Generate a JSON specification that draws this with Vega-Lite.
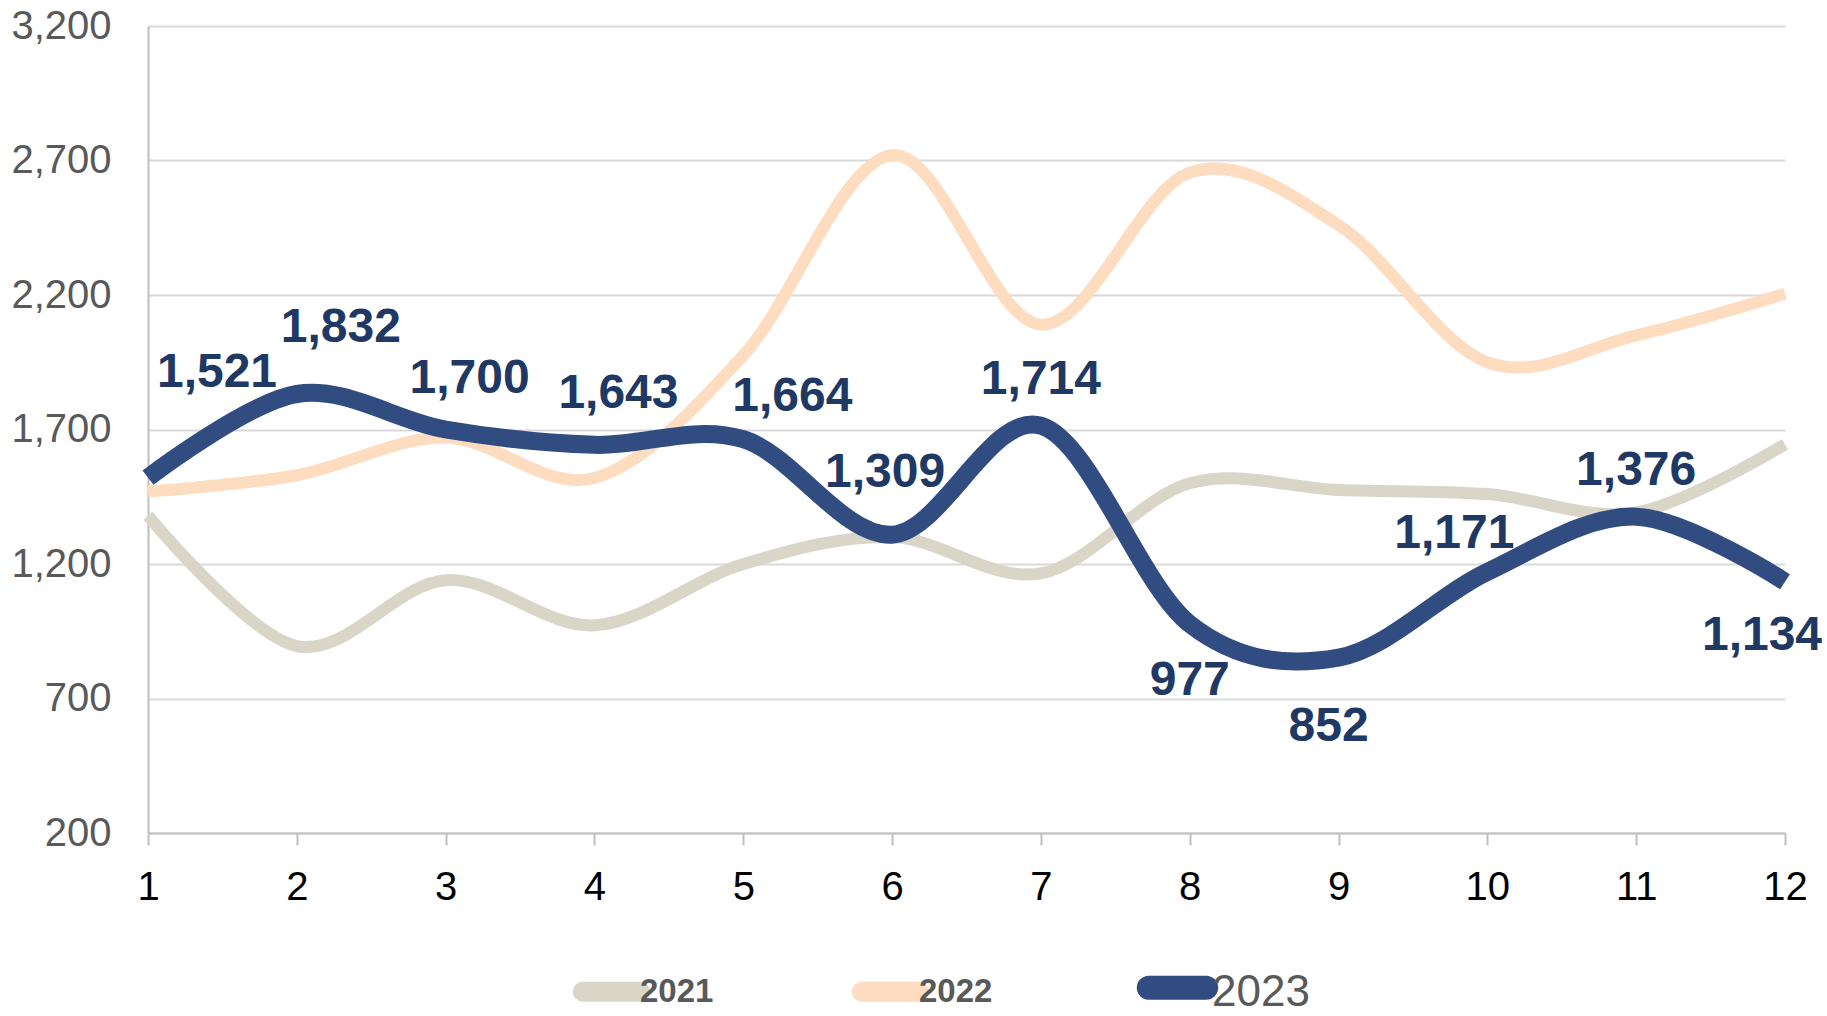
{
  "$schema": "https://vega.github.io/schema/vega-lite/v6.json",
  "width": 1637,
  "height": 807,
  "autosize": {"type": "none"},
  "padding": {"left": 148, "top": 26, "right": 42, "bottom": 183},
  "background": "white",
  "config": {"view": {"stroke": null}, "font": "Liberation Sans"},
  "datasets": {
    "series": [
      {"month": 1, "year": "2021", "value": 1380},
      {"month": 2, "year": "2021", "value": 895},
      {"month": 3, "year": "2021", "value": 1140},
      {"month": 4, "year": "2021", "value": 972},
      {"month": 5, "year": "2021", "value": 1200},
      {"month": 6, "year": "2021", "value": 1300},
      {"month": 7, "year": "2021", "value": 1165},
      {"month": 8, "year": "2021", "value": 1500},
      {"month": 9, "year": "2021", "value": 1475},
      {"month": 10, "year": "2021", "value": 1460},
      {"month": 11, "year": "2021", "value": 1392},
      {"month": 12, "year": "2021", "value": 1645},
      {"month": 1, "year": "2022", "value": 1470},
      {"month": 2, "year": "2022", "value": 1530},
      {"month": 3, "year": "2022", "value": 1670},
      {"month": 4, "year": "2022", "value": 1520},
      {"month": 5, "year": "2022", "value": 1975},
      {"month": 6, "year": "2022", "value": 2720},
      {"month": 7, "year": "2022", "value": 2090},
      {"month": 8, "year": "2022", "value": 2655},
      {"month": 9, "year": "2022", "value": 2460},
      {"month": 10, "year": "2022", "value": 1950},
      {"month": 11, "year": "2022", "value": 2050},
      {"month": 12, "year": "2022", "value": 2205},
      {"month": 1, "year": "2023", "value": 1521},
      {"month": 2, "year": "2023", "value": 1832},
      {"month": 3, "year": "2023", "value": 1700},
      {"month": 4, "year": "2023", "value": 1643},
      {"month": 5, "year": "2023", "value": 1664},
      {"month": 6, "year": "2023", "value": 1309},
      {"month": 7, "year": "2023", "value": 1714},
      {"month": 8, "year": "2023", "value": 977},
      {"month": 9, "year": "2023", "value": 852},
      {"month": 10, "year": "2023", "value": 1171},
      {"month": 11, "year": "2023", "value": 1376},
      {"month": 12, "year": "2023", "value": 1134}
    ]
  },
  "data": {"name": "series"},
  "encoding": {
    "x": {
      "field": "month", "type": "quantitative",
      "scale": {"domain": [1, 12], "nice": false, "zero": false},
      "axis": {
        "values": [1, 2, 3, 4, 5, 6, 7, 8, 9, 10, 11, 12], "format": "d", "title": null, "grid": false,
        "labelFontSize": 40, "labelColor": "#000000", "labelFont": "Liberation Sans",
        "tickSize": 12, "tickColor": "#BFBFBF", "tickWidth": 2,
        "domainColor": "#BFBFBF", "domainWidth": 2, "labelPadding": 22, "labelFlush": false
      }
    },
    "y": {
      "field": "value", "type": "quantitative",
      "scale": {"domain": [200, 3200], "nice": false, "zero": false},
      "axis": {
        "values": [200, 700, 1200, 1700, 2200, 2700, 3200], "format": ",.0f", "title": null,
        "labelFontSize": 40, "labelColor": "#595959", "labelFont": "Liberation Sans", "labelPadding": 37,
        "ticks": false, "domain": true, "domainColor": "#BFBFBF", "domainWidth": 2,
        "gridColor": "#D9D9D9", "gridWidth": 2
      }
    }
  },
  "layer": [
    {
      "transform": [{"filter": "datum.year != '2023'"}],
      "mark": {"type": "line", "interpolate": "cardinal", "strokeWidth": 12},
      "encoding": {
        "color": {
          "field": "year", "type": "nominal",
          "scale": {"domain": ["2021", "2022", "2023"], "range": ["#D9D6C8", "#FDDCC0", "#304C80"]},
          "legend": {
            "orient": "none", "legendX": 447, "legendY": 945, "direction": "horizontal", "title": null,
            "padding": 0, "symbolType": "stroke", "symbolSize": 3300, "symbolStrokeWidth": 20,
            "labelFontSize": 33, "labelFont": "Liberation Sans", "labelColor": "#595959", "labelFontWeight": "bold",
            "labelOffset": 12, "columnPadding": 107,
            "encode": {
              "symbols": {"update": {"strokeWidth": {"signal": "datum.value == '2023' ? 24 : 20"}, "strokeCap": {"value": "round"}}},
              "labels": {"update": {"fontSize": {"signal": "datum.value == '2023' ? 44 : 33"}, "fontWeight": {"signal": "datum.value == '2023' ? 'normal' : 'bold'"}, "dy": {"signal": "datum.value == '2023' ? 5 : 0"}, "dx": {"signal": "datum.value == '2023' ? 6 : 0"}}}
            }
          }
        }
      }
    },
    {
      "transform": [{"filter": "datum.year == '2023'"}],
      "mark": {"type": "line", "interpolate": "cardinal", "strokeWidth": 18},
      "encoding": {"color": {"field": "year", "type": "nominal"}}
    },
    {
      "transform": [{"filter": "datum.year == '2023' && datum.month == 1"}],
      "mark": {"type": "text", "font": "Liberation Sans", "fontWeight": "bold", "fontSize": 48, "color": "#203864", "baseline": "middle", "align": "center", "dx": 69, "dy": -105},
      "encoding": {"text": {"field": "value", "type": "quantitative", "format": ","}}
    },
    {
      "transform": [{"filter": "datum.year == '2023' && datum.month == 2"}],
      "mark": {"type": "text", "font": "Liberation Sans", "fontWeight": "bold", "fontSize": 48, "color": "#203864", "baseline": "middle", "align": "center", "dx": 44, "dy": -66},
      "encoding": {"text": {"field": "value", "type": "quantitative", "format": ","}}
    },
    {
      "transform": [{"filter": "datum.year == '2023' && (datum.month == 3 || datum.month == 4)"}],
      "mark": {"type": "text", "font": "Liberation Sans", "fontWeight": "bold", "fontSize": 48, "color": "#203864", "baseline": "middle", "align": "center", "dx": 24, "dy": -51},
      "encoding": {"text": {"field": "value", "type": "quantitative", "format": ","}}
    },
    {
      "transform": [{"filter": "datum.year == '2023' && datum.month == 5"}],
      "mark": {"type": "text", "font": "Liberation Sans", "fontWeight": "bold", "fontSize": 48, "color": "#203864", "baseline": "middle", "align": "center", "dx": 49, "dy": -42},
      "encoding": {"text": {"field": "value", "type": "quantitative", "format": ","}}
    },
    {
      "transform": [{"filter": "datum.year == '2023' && datum.month == 6"}],
      "mark": {"type": "text", "font": "Liberation Sans", "fontWeight": "bold", "fontSize": 48, "color": "#203864", "baseline": "middle", "align": "center", "dx": -7, "dy": -62},
      "encoding": {"text": {"field": "value", "type": "quantitative", "format": ","}}
    },
    {
      "transform": [{"filter": "datum.year == '2023' && (datum.month == 7 || datum.month == 11)"}],
      "mark": {"type": "text", "font": "Liberation Sans", "fontWeight": "bold", "fontSize": 48, "color": "#203864", "baseline": "middle", "align": "center", "dx": 0, "dy": -46},
      "encoding": {"text": {"field": "value", "type": "quantitative", "format": ","}}
    },
    {
      "transform": [{"filter": "datum.year == '2023' && datum.month == 8"}],
      "mark": {"type": "text", "font": "Liberation Sans", "fontWeight": "bold", "fontSize": 48, "color": "#203864", "baseline": "middle", "align": "center", "dx": 0, "dy": 57},
      "encoding": {"text": {"field": "value", "type": "quantitative", "format": ","}}
    },
    {
      "transform": [{"filter": "datum.year == '2023' && datum.month == 9"}],
      "mark": {"type": "text", "font": "Liberation Sans", "fontWeight": "bold", "fontSize": 48, "color": "#203864", "baseline": "middle", "align": "center", "dx": -10, "dy": 69},
      "encoding": {"text": {"field": "value", "type": "quantitative", "format": ","}}
    },
    {
      "transform": [{"filter": "datum.year == '2023' && datum.month == 10"}],
      "mark": {"type": "text", "font": "Liberation Sans", "fontWeight": "bold", "fontSize": 48, "color": "#203864", "baseline": "middle", "align": "center", "dx": -33, "dy": -38},
      "encoding": {"text": {"field": "value", "type": "quantitative", "format": ","}}
    },
    {
      "transform": [{"filter": "datum.year == '2023' && datum.month == 12"}],
      "mark": {"type": "text", "font": "Liberation Sans", "fontWeight": "bold", "fontSize": 48, "color": "#203864", "baseline": "middle", "align": "center", "dx": -23, "dy": 54},
      "encoding": {"text": {"field": "value", "type": "quantitative", "format": ","}}
    }
  ]
}
